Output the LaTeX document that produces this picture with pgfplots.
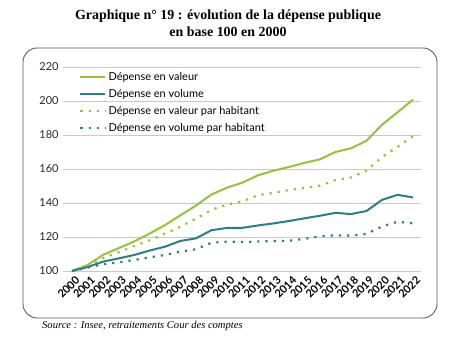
\documentclass[border=0pt]{standalone}
\usepackage{pgfplots}
\pgfplotsset{compat=1.18}
\usepackage{fontspec}
\setmainfont{Liberation Serif}
\newfontfamily\lato{Lato}
\definecolor{vert}{RGB}{149,193,60}
\definecolor{bleu}{RGB}{46,124,132}
\definecolor{gridc}{RGB}{200,200,204}
\begin{document}
\begin{tikzpicture}
\path[use as bounding box] (-63bp,-66bp) rectangle (394bp,271bp);
\draw[rounded corners=14bp, color=black!65, line width=0.9bp] (-40bp,-47bp) rectangle (374bp,223bp);
\node[font=\fontsize{14}{17}\selectfont\bfseries, align=center] at (165bp,248bp) {Graphique n° 19 : évolution de la dépense publique\\en base 100 en 2000};
\node[font=\fontsize{10.6}{12}\selectfont\itshape, anchor=west, inner sep=0pt] at (-21bp,-55bp) {Source : Insee, retraitements Cour des comptes};
\begin{axis}[
  at={(0,0)}, anchor=origin,
  scale only axis, width=358bp, height=204bp,
  xmin=1999.42, xmax=2022.52, ymin=100, ymax=220,
  ytick={100,120,...,220},
  xtick={2000,...,2022},
  ymajorgrids, major grid style={gridc, line width=0.8bp},
  axis line style={draw=none},
  tick style={draw=none},
  /pgf/number format/assume math mode=true,
  /pgf/number format/1000 sep={},
  yticklabel style={font=\lato\fontsize{11}{13}\selectfont, color=black!85, xshift=-1bp},
  xticklabel style={font=\lato\fontsize{11}{13}\selectfont\bfseries, rotate=45, anchor=east, inner sep=1bp, yshift=-9bp, xshift=0bp},
  legend cell align=left,
  legend style={at={(0.045,0.985)}, anchor=north west, draw=none, fill=none, inner sep=0pt,
    font=\lato\fontsize{11}{13}\selectfont, row sep=3.5bp, /tikz/every even column/.append style={column sep=4bp}},
  legend image code/.code={\draw[#1] (0bp,0bp) -- (25bp,0bp);},
]
\addplot[vert, line width=2bp, line join=round] coordinates {
(2000,100) (2001,103.5) (2002,109.5) (2003,113.4) (2004,117.3) (2005,122) (2006,127) (2007,132.8) (2008,138.5)
(2009,145) (2010,149) (2011,152) (2012,156.3) (2013,159) (2014,161.2) (2015,163.6) (2016,165.7) (2017,170)
(2018,172.2) (2019,176.6) (2020,186) (2021,193.3) (2022,200.8)};
\addlegendentry{Dépense en valeur}
\addplot[bleu, line width=2bp, line join=round] coordinates {
(2000,100) (2001,102.3) (2002,105.5) (2003,107.4) (2004,109.4) (2005,112) (2006,114.3) (2007,117.7) (2008,119.2)
(2009,124) (2010,125.3) (2011,125.4) (2012,126.8) (2013,128) (2014,129.4) (2015,131) (2016,132.5) (2017,134.2)
(2018,133.5) (2019,135.3) (2020,141.8) (2021,144.8) (2022,143.3)};
\addlegendentry{Dépense en volume}
\addplot[vert, line width=2.2bp, dash pattern=on 2.2bp off 6bp, line cap=butt] coordinates {
(2000,100) (2001,102.8) (2002,107.6) (2003,111) (2004,114.7) (2005,118) (2006,122) (2007,126) (2008,130.8)
(2009,136) (2010,139) (2011,141) (2012,144.6) (2013,146) (2014,147.6) (2015,148.8) (2016,150.2) (2017,153.5)
(2018,155) (2019,159) (2020,167) (2021,173) (2022,179.3)};
\addlegendentry{Dépense en valeur par habitant}
\addplot[bleu, line width=2.2bp, dash pattern=on 2.2bp off 6bp, line cap=butt] coordinates {
(2000,100) (2001,102) (2002,104) (2003,105) (2004,106.5) (2005,108) (2006,109.4) (2007,111.4) (2008,112.8)
(2009,116.6) (2010,117.3) (2011,117) (2012,117.3) (2013,117.6) (2014,117.8) (2015,118.9) (2016,120.4) (2017,121)
(2018,120.8) (2019,121.8) (2020,126.2) (2021,129) (2022,128)};
\addlegendentry{Dépense en volume par habitant}
\end{axis}
\end{tikzpicture}
\end{document}
